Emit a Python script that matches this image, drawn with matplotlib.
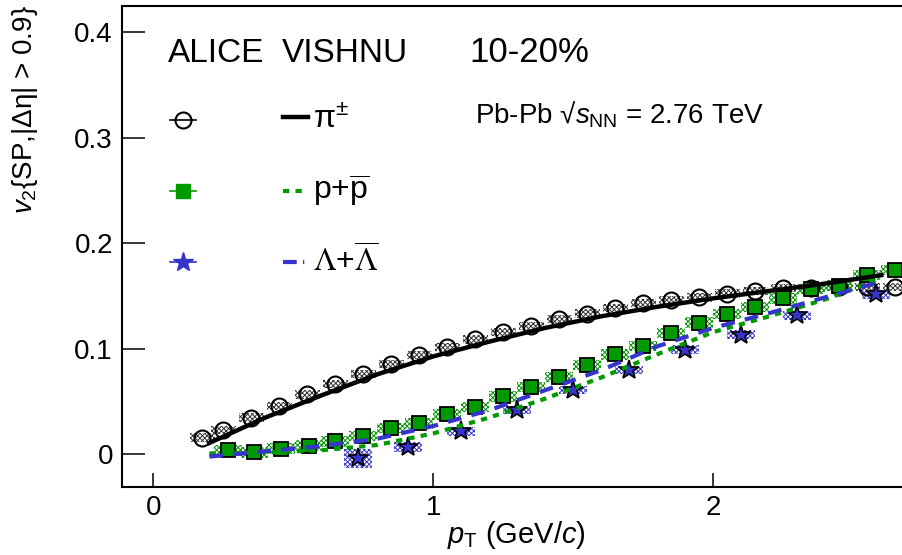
import numpy as np
import matplotlib
matplotlib.use('Agg')
import matplotlib.pyplot as plt

plt.rcParams['font.family'] = ['Liberation Sans', 'DejaVu Sans']
plt.rcParams['mathtext.fontset'] = 'custom'
plt.rcParams['mathtext.rm'] = 'Liberation Sans'
plt.rcParams['mathtext.it'] = 'Liberation Sans:italic'
plt.rcParams['mathtext.bf'] = 'Liberation Sans:bold'
plt.rcParams['hatch.linewidth'] = 0.7

######### Data ############################################
# ALICE pions
pt_pi = [0.175, 0.25, 0.35, 0.45, 0.55, 0.65, 0.75, 0.85, 0.95, 1.05, 1.15, 1.25, 1.35,
         1.45, 1.55, 1.65, 1.75, 1.85, 1.95, 2.05, 2.15, 2.25, 2.35, 2.45, 2.55, 2.65]
v2_pi = [0.016, 0.023, 0.035, 0.046, 0.057, 0.067, 0.0765, 0.086, 0.0945, 0.102, 0.109, 0.116, 0.122,
         0.1285, 0.1335, 0.139, 0.1435, 0.146, 0.149, 0.1525, 0.155, 0.158, 0.158, 0.159, 0.159, 0.159]
sys_pi = [0.004, 0.004, 0.004, 0.004, 0.004, 0.004, 0.004, 0.004, 0.004, 0.004, 0.004, 0.004, 0.004,
          0.004, 0.004, 0.004, 0.004, 0.004, 0.004, 0.004, 0.004, 0.004, 0.004, 0.004, 0.004, 0.004]

# ALICE protons
pt_p = [0.265, 0.36, 0.455, 0.555, 0.65, 0.75, 0.85, 0.95, 1.05, 1.15, 1.25, 1.35, 1.45,
        1.55, 1.65, 1.75, 1.85, 1.95, 2.05, 2.15, 2.25, 2.35, 2.45, 2.55, 2.65]
v2_p = [0.004, 0.002, 0.0055, 0.0085, 0.0125, 0.0175, 0.025, 0.0295, 0.038, 0.045, 0.055, 0.064, 0.0735,
        0.085, 0.095, 0.103, 0.115, 0.125, 0.133, 0.140, 0.148, 0.157, 0.160, 0.170, 0.175]
sys_p = [0.005, 0.005, 0.005, 0.005, 0.005, 0.005, 0.005, 0.005, 0.005, 0.005, 0.005, 0.005, 0.005,
         0.005, 0.005, 0.005, 0.005, 0.005, 0.005, 0.005, 0.005, 0.005, 0.005, 0.005, 0.005]

# ALICE lambdas
pt_lam = [0.73, 0.91, 1.10, 1.30, 1.50, 1.70, 1.90, 2.10, 2.30, 2.58]
v2_lam = [-0.0035, 0.0073, 0.022, 0.042, 0.061, 0.080, 0.0995, 0.1137, 0.1318, 0.1517]
sys_lam = [0.009, 0.005, 0.004, 0.004, 0.004, 0.004, 0.004, 0.004, 0.004, 0.004]

# VISHNU curves
pt_model = [0.2, 0.4, 0.6, 0.8, 1.0, 1.2, 1.4, 1.6, 1.8, 2.0, 2.2, 2.4, 2.6]
v2_model_pi = [0.011, 0.035, 0.056, 0.076, 0.093, 0.107, 0.120, 0.131, 0.140, 0.148, 0.155, 0.162, 0.170]
v2_model_p = [0.001, 0.002, 0.004, 0.009, 0.020, 0.035, 0.053, 0.073, 0.095, 0.116, 0.131, 0.147, 0.167]
v2_model_lam = [-0.002, 0.003, 0.008, 0.015, 0.027, 0.042, 0.061, 0.080, 0.1025, 0.120, 0.134, 0.149, 0.164]

x_ticks = [0, 1, 2]
y_ticks = [0, 0.1, 0.2, 0.3, 0.4]
y_ticklabels = ['0', '0.1', '0.2', '0.3', '0.4']

c_pi = 'black'
c_p = '#009900'
c_lam = '#3535cc'

######### Figure ######################
fig = plt.figure(figsize=(9.03, 5.55), dpi=100)
ax = fig.add_axes([0.1351, 0.1231, 0.8649, 0.8667])

# systematic boxes
ax.bar(pt_pi, 2 * np.array(sys_pi), width=0.09, bottom=np.array(v2_pi) - np.array(sys_pi),
       facecolor='none', edgecolor='#333333', hatch='xxxxxxx', linewidth=0, zorder=1)
ax.bar(pt_p, 2 * np.array(sys_p), width=0.1, bottom=np.array(v2_p) - np.array(sys_p),
       facecolor='none', edgecolor=c_p, hatch='xxxxxxx', linewidth=0, zorder=1)
ax.bar(pt_lam, 2 * np.array(sys_lam), width=0.1, bottom=np.array(v2_lam) - np.array(sys_lam),
       facecolor='none', edgecolor=c_lam, hatch='xxxxxxx', linewidth=0, zorder=1)

# data points
ax.plot(pt_pi, v2_pi, 'o', ms=11.5, mfc='none', mec='black', mew=1.5, zorder=3)
ax.plot(pt_p, v2_p, 's', ms=10.5, mfc=c_p, mec='black', mew=1.3, zorder=3)
ax.plot(pt_lam, v2_lam, '*', ms=15, mfc=c_lam, mec='black', mew=1.2, zorder=3)

# model curves
ax.plot(pt_model, v2_model_pi, '-', color=c_pi, lw=3.2, zorder=4)
ax.plot(pt_model, v2_model_p, color=c_p, lw=3, ls=(0, (1.5, 1.5)), zorder=4)
ax.plot(pt_model, v2_model_lam, color=c_lam, lw=3, ls=(0, (3.3, 2.5)), zorder=4)

ax.set_xlim(-0.112, 2.6775)
ax.set_ylim(-0.0305, 0.4254)
ax.set_xticks(x_ticks)
ax.set_xticklabels([str(t) for t in x_ticks], fontsize=20)
ax.set_yticks(y_ticks)
ax.set_yticklabels(y_ticklabels, fontsize=20)
ax.tick_params(axis='y', direction='in', length=16.5, width=1.1, pad=6.5)
ax.tick_params(axis='x', direction='in', length=10, width=1.1, pad=6)
ax.spines['right'].set_visible(False)
for s in ['left', 'bottom', 'top']:
    ax.spines[s].set_linewidth(1.5)

# legend (drawn by hand, ROOT style)
tr = ax.transAxes
fig.text(0.186, 0.888, 'ALICE', fontsize=24)
fig.text(0.312, 0.888, 'VISHNU', fontsize=24)
fig.text(0.520, 0.888, '10-20%', fontsize=25)

rows = [0.762, 0.6144, 0.467]
ax.plot([0.0615, 0.0947], [rows[0]] * 2, color='black', lw=1.2, transform=tr, clip_on=False)
ax.plot([0.0781], [rows[0]], 'o', ms=11.5, mfc='none', mec='black', mew=1.5, transform=tr)
ax.plot([0.0615, 0.0947], [rows[1]] * 2, color=c_p, lw=1.2, transform=tr, clip_on=False)
ax.plot([0.0781], [rows[1]], 's', ms=10.5, mfc=c_p, mec=c_p, mew=1.0, transform=tr)
ax.plot([0.0615, 0.0947], [rows[2]] * 2, color=c_lam, lw=1.2, transform=tr, clip_on=False)
ax.plot([0.0781], [rows[2]], '*', ms=15, mfc=c_lam, mec=c_lam, mew=1.0, transform=tr)

ax.plot([0.206, 0.238], [rows[0] + 0.006] * 2, '-', color=c_pi, lw=3.2, transform=tr)
ax.plot([0.206, 0.238], [rows[1]] * 2, color=c_p, lw=3, ls=(0, (1.5, 1.5)), transform=tr)
ax.plot([0.206, 0.238], [rows[2]] * 2, color=c_lam, lw=3, ls=(0, (3.3, 1.5, 0.3, 1.5)), transform=tr)

ax.text(0.2446, rows[0], r'$\mathrm{\pi}^{\pm}$', fontsize=23, va='center', transform=tr)
ax.text(0.2446, rows[1], r'p+$\overline{\mathrm{p}}$', fontsize=23, va='center', transform=tr)
ax.text(0.2446, rows[2], r'$\Lambda$+$\overline{\Lambda}$', fontsize=23, va='center', transform=tr,
        math_fontfamily='stix')

fig.text(0.526, 0.778, r'Pb-Pb √$s_{\mathrm{NN}}$ = 2.76 TeV', fontsize=20)

# axis titles
fig.text(25 / 903, 1 - 5 / 555, r'$v_{2}${SP,|$\mathrm{\Delta\eta}$| > 0.9}', fontsize=20,
         rotation=90, ha='center', va='top')
fig.text(516 / 903, 1 - 543 / 555, r'$p_{\mathrm{T}}$ (GeV/$c$)', fontsize=21, ha='center', va='baseline')

fig.savefig('out.png', dpi=100)
